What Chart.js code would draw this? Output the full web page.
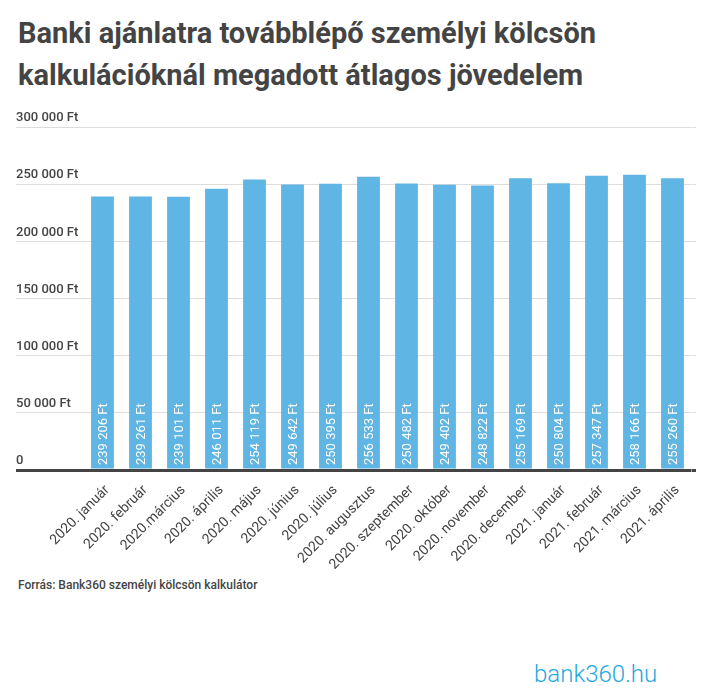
<!DOCTYPE html>
<html>
<head>
<meta charset="utf-8">
<script src="https://cdn.jsdelivr.net/npm/chart.js@4.4.0/dist/chart.umd.min.js"></script>
<style>
  html, body { margin: 0; padding: 0; background: #fff; }
  body { width: 716px; height: 700px; position: relative; overflow: hidden; font-family: Roboto, sans-serif; }
  #title { position: absolute; left: 18px; top: 12px; font-size: 29px; line-height: 42px; font-weight: bold; color: #444; }
  #wrap { position: absolute; left: 0; top: 100px; width: 716px; height: 470px; }
  #source { position: absolute; left: 18px; top: 578px; font-size: 12px; line-height: 14px; font-weight: 500; color: #444; }
  #logo { position: absolute; left: 534px; top: 659px; font-size: 24px; line-height: 30px; font-weight: 300; color: #1fa8e1; }
</style>
</head>
<body>
<div id="title">Banki ajánlatra továbblépő személyi kölcsön<br>kalkulációknál megadott átlagos jövedelem</div>
<div id="wrap"><canvas id="chart"></canvas></div>
<div id="source">Forrás: Bank360 személyi kölcsön kalkulátor</div>
<div id="logo">bank360.hu</div>
<script>
const months = [
  "2020. január", "2020. február", "2020.március", "2020. április",
  "2020. május", "2020. június", "2020. július", "2020. augusztus",
  "2020. szeptember", "2020. október", "2020. november", "2020. december",
  "2021. január", "2021. február", "2021. március", "2021. április"
];
const income = [
  239206, 239261, 239101, 246011, 254119, 249642, 250395, 256533,
  250482, 249402, 248822, 255169, 250804, 257347, 258166, 255260
];
const yMax = 300000;
const yStep = 50000;

const ft = v => String(v).replace(/\B(?=(\d{3})+(?!\d))/g, " ") + " Ft";

Chart.defaults.font.family = "Roboto, sans-serif";

// value labels written upwards inside each bar
const barLabels = {
  id: "barLabels",
  afterDatasetsDraw(chart) {
    const ctx = chart.ctx;
    const bottom = chart.chartArea.bottom;
    chart.getDatasetMeta(0).data.forEach((bar, i) => {
      ctx.save();
      ctx.translate(bar.x, bottom - 5);
      ctx.rotate(-Math.PI / 2);
      ctx.font = "13px Roboto, sans-serif";
      ctx.fillStyle = "#fff";
      ctx.textAlign = "left";
      ctx.textBaseline = "middle";
      ctx.fillText(ft(income[i]), 0, 1);
      ctx.restore();
    });
  }
};

const isZero = c => c.tick && c.tick.value === 0;

new Chart(document.getElementById("chart"), {
  type: "bar",
  data: {
    labels: months,
    datasets: [{
      data: income,
      backgroundColor: "#5fb5e4",
      categoryPercentage: 1,
      barPercentage: 0.6
    }]
  },
  options: {
    responsive: true,
    maintainAspectRatio: false,
    animation: false,
    layout: { padding: { left: 16, right: 20, top: 27, bottom: 0 } },
    plugins: { legend: { display: false }, tooltip: { enabled: false } },
    scales: {
      x: {
        grid: { display: false },
        border: { display: false },
        ticks: {
          autoSkip: false, minRotation: 45, maxRotation: 45,
          color: "#444", font: { size: 14 }, padding: 4, labelOffset: 5
        },
        afterFit: s => { s.height = 100; }
      },
      y: {
        min: 0, max: yMax,
        border: { display: false },
        grid: {
          color: c => isZero(c) ? "#444" : "#ddd",
          lineWidth: c => isZero(c) ? 3 : 1,
          tickColor: c => isZero(c) ? "#444" : "#ddd",
          tickWidth: c => isZero(c) ? 3 : 1,
          tickLength: 67.5
        },
        ticks: {
          stepSize: yStep,
          crossAlign: "far",
          padding: 0,
          labelOffset: -9,
          color: "#444",
          font: { size: 13, weight: 500 },
          callback: v => v === 0 ? "0" : ft(v)
        },
        afterFit: s => { s.width = 67.5; }
      },
      y2: {
        position: "right",
        min: 0, max: yMax,
        border: { display: false },
        grid: {
          drawOnChartArea: false,
          color: c => isZero(c) ? "#444" : "#ddd",
          tickColor: c => isZero(c) ? "#444" : "#ddd",
          tickWidth: c => isZero(c) ? 3 : 1,
          tickLength: 4.5
        },
        ticks: { stepSize: yStep, display: false },
        afterFit: s => { s.width = 4.5; }
      }
    }
  },
  plugins: [barLabels]
});
</script>
</body>
</html>
